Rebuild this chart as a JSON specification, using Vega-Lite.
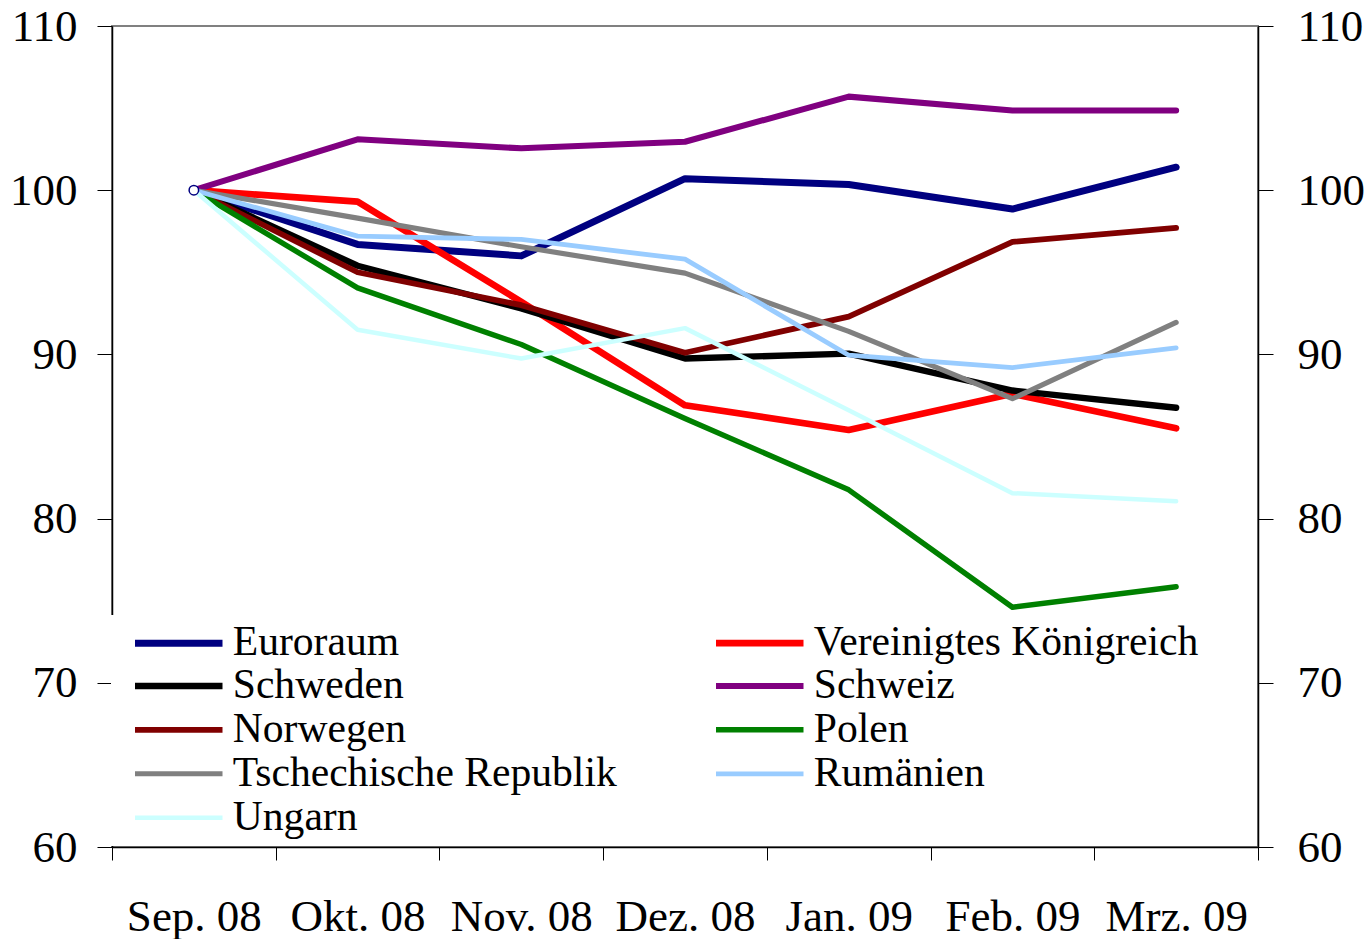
{
  "$schema": "https://vega.github.io/schema/vega-lite/v6.json",
  "width": 1146,
  "height": 821,
  "autosize": {"type": "none"},
  "padding": {"left": 112, "top": 26, "right": 107, "bottom": 92},
  "background": "white",
  "config": {
    "font": "Liberation Serif",
    "view": {"stroke": "#808080", "strokeWidth": 2},
    "axis": {
      "labelFont": "Liberation Serif",
      "labelFontSize": 45,
      "labelColor": "black",
      "domainColor": "black",
      "domainWidth": 1.5,
      "tickColor": "black",
      "tickWidth": 1,
      "grid": false,
      "title": null
    }
  },
  "data": {
    "values": [
      {"m": "Sep. 08", "c": "Euroraum", "v": 100},
      {"m": "Okt. 08", "c": "Euroraum", "v": 96.7},
      {"m": "Nov. 08", "c": "Euroraum", "v": 96.0},
      {"m": "Dez. 08", "c": "Euroraum", "v": 100.7},
      {"m": "Jan. 09", "c": "Euroraum", "v": 100.35},
      {"m": "Feb. 09", "c": "Euroraum", "v": 98.85},
      {"m": "Mrz. 09", "c": "Euroraum", "v": 101.4},
      {"m": "Sep. 08", "c": "Vereinigtes Königreich", "v": 100},
      {"m": "Okt. 08", "c": "Vereinigtes Königreich", "v": 99.3},
      {"m": "Nov. 08", "c": "Vereinigtes Königreich", "v": 93.2},
      {"m": "Dez. 08", "c": "Vereinigtes Königreich", "v": 86.9},
      {"m": "Jan. 09", "c": "Vereinigtes Königreich", "v": 85.4},
      {"m": "Feb. 09", "c": "Vereinigtes Königreich", "v": 87.6},
      {"m": "Mrz. 09", "c": "Vereinigtes Königreich", "v": 85.5},
      {"m": "Sep. 08", "c": "Schweden", "v": 100},
      {"m": "Okt. 08", "c": "Schweden", "v": 95.4},
      {"m": "Nov. 08", "c": "Schweden", "v": 92.8},
      {"m": "Dez. 08", "c": "Schweden", "v": 89.75},
      {"m": "Jan. 09", "c": "Schweden", "v": 90.05},
      {"m": "Feb. 09", "c": "Schweden", "v": 87.8},
      {"m": "Mrz. 09", "c": "Schweden", "v": 86.75},
      {"m": "Sep. 08", "c": "Schweiz", "v": 100},
      {"m": "Okt. 08", "c": "Schweiz", "v": 103.1},
      {"m": "Nov. 08", "c": "Schweiz", "v": 102.55},
      {"m": "Dez. 08", "c": "Schweiz", "v": 102.95},
      {"m": "Jan. 09", "c": "Schweiz", "v": 105.7},
      {"m": "Feb. 09", "c": "Schweiz", "v": 104.85},
      {"m": "Mrz. 09", "c": "Schweiz", "v": 104.85},
      {"m": "Sep. 08", "c": "Norwegen", "v": 100},
      {"m": "Okt. 08", "c": "Norwegen", "v": 95.0},
      {"m": "Nov. 08", "c": "Norwegen", "v": 93.0},
      {"m": "Dez. 08", "c": "Norwegen", "v": 90.1},
      {"m": "Jan. 09", "c": "Norwegen", "v": 92.3},
      {"m": "Feb. 09", "c": "Norwegen", "v": 96.85},
      {"m": "Mrz. 09", "c": "Norwegen", "v": 97.7},
      {"m": "Sep. 08", "c": "Polen", "v": 100},
      {"m": "Okt. 08", "c": "Polen", "v": 94.05},
      {"m": "Nov. 08", "c": "Polen", "v": 90.6},
      {"m": "Dez. 08", "c": "Polen", "v": 86.1},
      {"m": "Jan. 09", "c": "Polen", "v": 81.75},
      {"m": "Feb. 09", "c": "Polen", "v": 74.6},
      {"m": "Mrz. 09", "c": "Polen", "v": 75.85},
      {"m": "Sep. 08", "c": "Tschechische Republik", "v": 100},
      {"m": "Okt. 08", "c": "Tschechische Republik", "v": 98.3},
      {"m": "Nov. 08", "c": "Tschechische Republik", "v": 96.55},
      {"m": "Dez. 08", "c": "Tschechische Republik", "v": 94.95},
      {"m": "Jan. 09", "c": "Tschechische Republik", "v": 91.4},
      {"m": "Feb. 09", "c": "Tschechische Republik", "v": 87.3},
      {"m": "Mrz. 09", "c": "Tschechische Republik", "v": 91.95},
      {"m": "Sep. 08", "c": "Rumänien", "v": 100},
      {"m": "Okt. 08", "c": "Rumänien", "v": 97.2},
      {"m": "Nov. 08", "c": "Rumänien", "v": 97.0},
      {"m": "Dez. 08", "c": "Rumänien", "v": 95.8},
      {"m": "Jan. 09", "c": "Rumänien", "v": 89.95},
      {"m": "Feb. 09", "c": "Rumänien", "v": 89.2},
      {"m": "Mrz. 09", "c": "Rumänien", "v": 90.4},
      {"m": "Sep. 08", "c": "Ungarn", "v": 100},
      {"m": "Okt. 08", "c": "Ungarn", "v": 91.5},
      {"m": "Nov. 08", "c": "Ungarn", "v": 89.75},
      {"m": "Dez. 08", "c": "Ungarn", "v": 91.6},
      {"m": "Jan. 09", "c": "Ungarn", "v": 86.6},
      {"m": "Feb. 09", "c": "Ungarn", "v": 81.55},
      {"m": "Mrz. 09", "c": "Ungarn", "v": 81.05}
    ]
  },
  "layer": [
    {
      "mark": {"type": "line", "strokeCap": "round", "strokeJoin": "round"},
      "encoding": {
        "x": {
          "field": "m",
          "type": "ordinal",
          "sort": null,
          "scale": {"type": "band", "paddingInner": 0, "paddingOuter": 0},
          "axis": {
            "orient": "bottom",
            "tickBand": "extent",
            "tickSize": 13,
            "labelAngle": 0,
            "labelBaseline": "alphabetic",
            "labelPadding": 70
          }
        },
        "y": {
          "field": "v",
          "type": "quantitative",
          "scale": {"domain": [60, 110], "nice": false, "zero": false},
          "axis": {
            "orient": "left",
            "values": [60, 70, 80, 90, 100, 110],
            "tickSize": 15,
            "labelPadding": 20
          }
        },
        "color": {
          "field": "c",
          "type": "nominal",
          "scale": {
            "domain": ["Euroraum", "Vereinigtes Königreich", "Schweden", "Schweiz", "Norwegen", "Polen", "Tschechische Republik", "Rumänien", "Ungarn"],
            "range": ["#000080", "#FF0000", "#000000", "#800080", "#800000", "#008000", "#808080", "#99CCFF", "#CCFFFF"]
          },
          "legend": {
            "title": null,
            "orient": "none",
            "direction": "horizontal",
            "legendX": -1,
            "legendY": 589,
            "columns": 2,
            "columnPadding": 82,
            "rowPadding": 1,
            "padding": 7,
            "fillColor": "white",
            "labelFont": "Liberation Serif",
            "labelFontSize": 41.6,
            "labelColor": "black",
            "labelLimit": 700,
            "symbolType": "M-2.5,0H2.5",
            "symbolSize": 1225,
            "symbolStrokeWidth": 5,
            "symbolOffset": 39.75,
            "labelOffset": 33
          }
        },
        "strokeWidth": {
          "field": "c",
          "type": "nominal",
          "scale": {
            "domain": ["Euroraum", "Vereinigtes Königreich", "Schweden", "Schweiz", "Norwegen", "Polen", "Tschechische Republik", "Rumänien", "Ungarn"],
            "range": [7, 4.5, 4.5, 4.5, 4.5, 4.5, 4.5, 4.5, 4.5]
          }
        }
      }
    },
    {
      "transform": [{"filter": "datum.c === 'Euroraum' && datum.m === 'Sep. 08'"}],
      "mark": {"type": "point", "filled": true, "fill": "white", "stroke": "#000080", "strokeWidth": 1.5, "size": 90, "opacity": 1},
      "encoding": {
        "x": {"field": "m", "type": "ordinal", "sort": null, "scale": {"type": "band", "paddingInner": 0, "paddingOuter": 0}},
        "y": {
          "field": "v",
          "type": "quantitative",
          "axis": {
            "orient": "right",
            "values": [60, 70, 80, 90, 100, 110],
            "tickSize": 15,
            "labelPadding": 24
          }
        }
      }
    }
  ],
  "resolve": {"axis": {"y": "independent"}}
}
